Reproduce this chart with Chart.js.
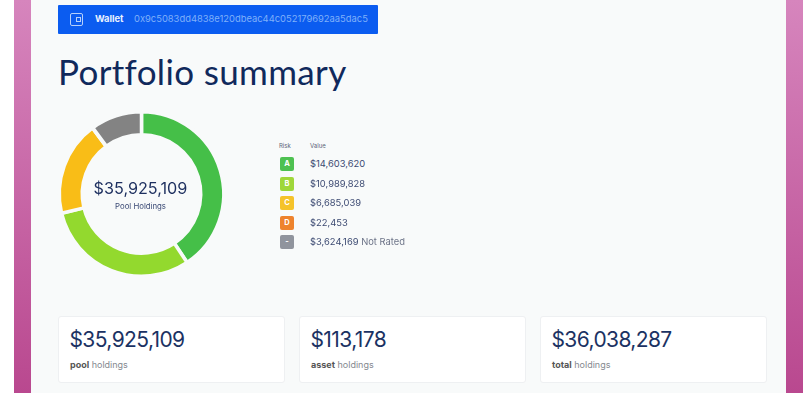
<!DOCTYPE html>
<html>
<head>
<meta charset="utf-8">
<script src="https://cdn.jsdelivr.net/npm/chart.js@4"></script>
<style>
  html, body { margin: 0; padding: 0; width: 810px; height: 393px; overflow: hidden; background: #fff; font-family: Inter, "Open Sans", sans-serif; }
  .abs { position: absolute; white-space: nowrap; }
  #frame { left: 14px; top: 0; width: 789px; height: 393px; background: linear-gradient(#d685bd, #b9488f); }
  #panel { left: 31px; top: 0; width: 755px; height: 393px; background: #f8fafa; }
  #wallet { left: 58px; top: 5px; width: 320px; height: 29px; background: #0b5cf0; border-radius: 1px; }
  #walletIcon { left: 70px; top: 13px; width: 11px; height: 11px; border: 1px solid #b5d0fb; border-radius: 2px; }
  #walletIcon i { position: absolute; right: 1px; top: 3px; width: 3px; height: 3px; border: 1px solid #b5d0fb; }
  #walletLabel { left: 95px; top: 13px; font-size: 9.3px; line-height: 12px; font-weight: 700; color: #e9f1ff; }
  #walletAddr { left: 134px; top: 13px; font-size: 9.4px; line-height: 12px; color: #7fb0fa; }
  #title { left: 58px; top: 50px; font-size: 35px; line-height: 42px; color: #10295c; font-family: Lato, sans-serif; letter-spacing: 0.35px; }
  #chartBox { left: 50px; top: 110px; width: 183px; height: 168px; }
  #centerValue { left: 50px; width: 181px; top: 177px; text-align: center; font-size: 16.2px; line-height: 22px; color: #1d2f5f; }
  #centerLabel { left: 50px; width: 181px; top: 200px; text-align: center; font-size: 7.8px; line-height: 12px; color: #3b4a75; }
  .head { top: 142px; font-size: 6px; line-height: 8px; color: #5a6478; }
  .swatch { left: 280px; width: 14px; height: 14px; border-radius: 2px; color: #fff; opacity: .95; font-size: 7.5px; line-height: 14px; text-align: center; font-weight: 700; }
  .val { left: 310px; font-size: 9.4px; line-height: 12px; color: #3c4a72; }
  .val span { color: #6d7488; }
  .card { top: 316px; width: 227px; height: 67px; background: #fff; border: 1px solid #eef0f2; border-radius: 3px; box-sizing: border-box; }
  .cardValue { top: 326px; font-size: 21px; line-height: 27px; color: #1b3263; letter-spacing: -0.6px; }
  .cardLabel { top: 359px; font-size: 9px; line-height: 12px; color: #85898f; }
  .cardLabel b { color: #555; }
</style>
</head>
<body>
<div class="abs" id="frame"></div>
<div class="abs" id="panel"></div>
<div class="abs" id="wallet"></div>
<div class="abs" id="walletIcon"><i></i></div>
<div class="abs" id="walletLabel">Wallet</div>
<div class="abs" id="walletAddr">0x9c5083dd4838e120dbeac44c052179692aa5dac5</div>
<div class="abs" id="title">Portfolio summary</div>
<div class="abs" id="chartBox"><canvas id="riskChart"></canvas></div>
<div class="abs" id="centerValue">$35,925,109</div>
<div class="abs" id="centerLabel">Pool Holdings</div>
<div class="abs head" style="left:279px">Risk</div>
<div class="abs head" style="left:310px">Value</div>
<div id="legend"></div>
<div id="cards"></div>
<script>
const riskLabels = ['A', 'B', 'C', 'D', '-'];
const riskValues = [14603620, 10989828, 6685039, 22453, 3624169];
const riskColors = ['#45bf48', '#93d92e', '#f9bd17', '#ec7a22', '#838383'];
const legendColors = ['#45bf48', '#9bd630', '#f5c01f', '#ee7d22', '#8b8f98'];
const riskNotes = ['', '', '', '', ' Not Rated'];
const cardValues = ['$35,925,109', '$113,178', '$36,038,287'];
const cardBold = ['pool', 'asset', 'total'];

const money = v => '$' + v.toLocaleString('en-US');

// Legend rows
const legend = document.getElementById('legend');
riskLabels.forEach((label, i) => {
    const y = 157 + i * 19.5;
    legend.innerHTML += `<div class="abs swatch" style="top:${y}px;background:${legendColors[i]}">${label}</div>` +
        `<div class="abs val" style="top:${y + 1}px">${money(riskValues[i])}<span>${riskNotes[i]}</span></div>`;
});

// Holdings cards
const cards = document.getElementById('cards');
cardValues.forEach((value, i) => {
    const x = 58 + i * 241;
    cards.innerHTML += `<div class="abs card" style="left:${x}px"></div>` +
        `<div class="abs cardValue" style="left:${x + 11.5}px">${value}</div>` +
        `<div class="abs cardLabel" style="left:${x + 12}px"><b>${cardBold[i]}</b> holdings</div>`;
});

new Chart(document.getElementById('riskChart'), {
    type: 'doughnut',
    data: {
        labels: riskLabels,
        datasets: [{
            data: riskValues,
            backgroundColor: riskColors,
            borderColor: '#f8fafa',
            borderWidth: 3.5
        }]
    },
    options: {
        responsive: true,
        maintainAspectRatio: false,
        animation: false,
        cutout: '72%',
        layout: { padding: 0 },
        plugins: {
            legend: { display: false },
            tooltip: { enabled: false }
        }
    }
});
</script>
</body>
</html>
